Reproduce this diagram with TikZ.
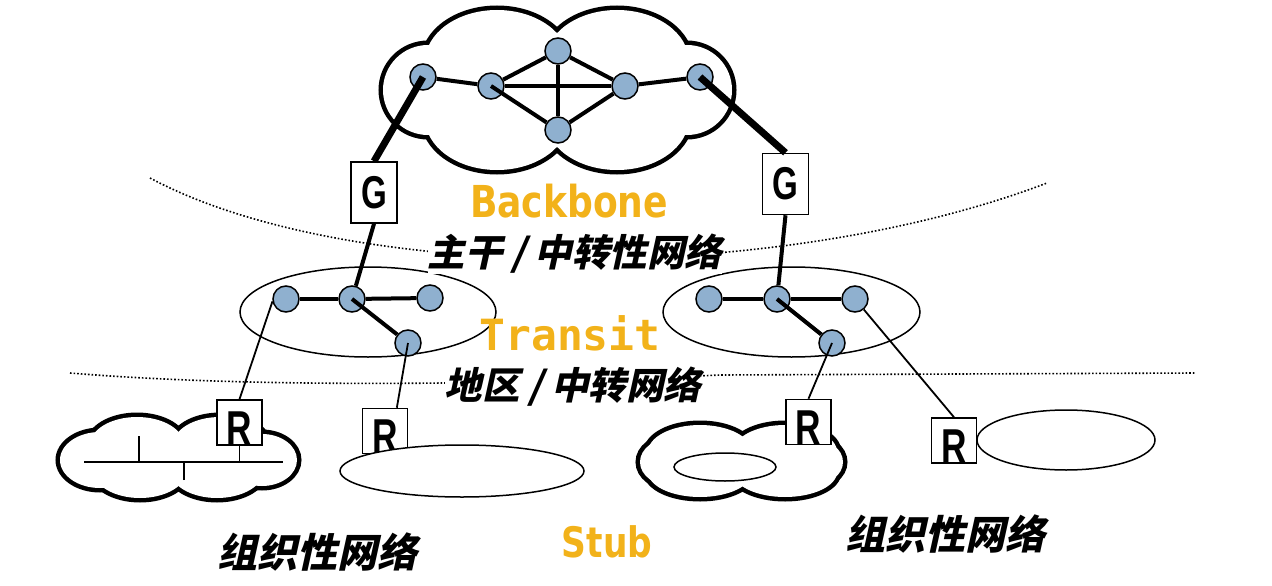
\documentclass[tikz,border=0pt]{standalone}
\usepackage{fontspec}
\usepackage{tikz}
\usetikzlibrary{positioning}
\newfontfamily\cjkFont{Noto Sans CJK SC}[FakeSlant=0.22]
\newfontfamily\titleFont{DejaVu Sans}[FakeStretch=0.82]
\newfontfamily\monoFont{DejaVu Sans Mono}
\newfontfamily\boxFont{Liberation Sans}[FakeStretch=0.72]
\definecolor{netBlue}{RGB}{143,176,207}
\definecolor{tagOrange}{RGB}{242,178,26}
% a cloud is a union of ellipses: thick outlines first, white fill on top
\newcommand*{\cloudShape}[1]{%
    \foreach \cx/\cy/\rx/\ry in {#1}
        \draw [line width=9] (\cx,\cy) ellipse [x radius=\rx, y radius=\ry];
    \foreach \cx/\cy/\rx/\ry in {#1}
        \fill [white] (\cx,\cy) ellipse [x radius=\rx, y radius=\ry];
}
\newcommand*{\cnSlash}{\makebox[0.85em]{/}}

\begin{document}
\begin{tikzpicture}[x=1pt, y=-1pt,
    netNode/.style={circle, draw, line width=1.5, fill=netBlue, minimum size=26, inner sep=0},
    link/.style={line width=4},
    trunk/.style={line width=7},
    tap/.style={line width=1.8},
    thinRing/.style={draw, line width=1.5},
    border/.style={dotted, line width=1.6},
    gateBox/.style={draw, line width=1.5, fill=white, minimum width=46, minimum height=61, inner sep=0,
        font=\boxFont\bfseries\fontsize{46}{46}\selectfont},
    routerBox/.style={draw, line width=1.5, fill=white, minimum width=45, minimum height=45, inner sep=0,
        font=\boxFont\bfseries\fontsize{49}{49}\selectfont},
    tierTag/.style={text=tagOrange, anchor=base, inner sep=0},
    cnTag/.style={fill=white, inner sep=0, font=\cjkFont\bfseries\fontsize{37.5}{37.5}\selectfont}]
    \useasboundingbox (0,0) rectangle (1272,586);

    % clouds
    \cloudShape{428/90/45/45, 497/62/72/52, 617/62/72/52, 497/118/72/52, 617/118/72/52, 687/90/45/45, 557/90/140/45}
    \cloudShape{100/460/40/28, 137/445/47/28, 220/445/47/28, 262/460/35/26, 140/470/47/28, 217/470/47/28, 178/458/85/18}
    \cloudShape{672/462/32/24, 700/452/52/27, 785/452/52/27, 813/462/30/23, 700/472/52/25, 785/472/52/25, 742/462/70/16}

    % transit regions
    \draw [thinRing] (368,312) ellipse [x radius=128, y radius=45];
    \draw [thinRing] (791.5,312) ellipse [x radius=128.5, y radius=45];

    % tier borders
    \draw [border] (150,178) .. controls (350,285) and (780,285) .. (1047,183);
    \draw [border] (70,373) .. controls (250,388) and (500,385) .. (720,375) -- (1195,373);

    \foreach \name/\px/\py in {bb1/423/77, bb2/491/86, bb3/558/51, bb4/558/130, bb5/625/86, bb6/700/77,
        tl1/286/299, tl2/352/299, tl3/430/298, tl4/408/343,
        tr1/709/299, tr2/777/299, tr3/855/299, tr4/832/343} {
        \node [netNode] (\name) at (\px,\py) {};
    }
    \foreach \a/\b in {bb1/bb2, bb2/bb3, bb2/bb5, bb3/bb4, bb3/bb5, bb4/bb5, bb5/bb6, tl1/tl2, tl2/tl3, tr1/tr2, tr2/tr3} {
        \draw [link] (\a) -- (\b);
    }
    \draw [link] (bb2.center) -- (bb4);
    \draw [link] (tl2.center) -- (tl4);
    \draw [link] (tr2.center) -- (tr4);

    % gateways
    \node [gateBox] (gl) at (374,192.5) {G};
    \node [gateBox] (gr) at (785.5,184) {G};
    \draw [trunk] (bb1.center) -- (gl.north);
    \draw [trunk] (bb6.center) -- (gr.north);
    \draw [link] (gl.south) -- (tl2);
    \draw [link] (gr.south) -- (tr2);

    % routers
    \node [routerBox] (rl1) at (239.5,422.5) {\smash{\raisebox{-22.5pt}{R}}};
    \node [routerBox] (rl2) at (385,431) {\smash{\raisebox{-22.5pt}{R}}};
    \node [routerBox] (rr1) at (808.5,422) {\smash{\raisebox{-22.5pt}{R}}};
    \node [routerBox] (rr2) at (954,440.5) {\smash{\raisebox{-22.5pt}{R}}};
    \draw [tap] (tl1.190) -- (rl1.north);
    \draw [tap] (tl4.center) -- (rl2.63);
    \draw [tap] (tr4.center) -- (rr1.north);
    \draw [tap] (tr3) -- (rr2.north);

    % stub networks
    \draw [thinRing, fill=white] (462,471) ellipse [x radius=122, y radius=26];
    \draw [thinRing, fill=white] (1066,440) ellipse [x radius=89, y radius=30];
    \draw [thinRing] (725,467) ellipse [x radius=51, y radius=14];
    \coordinate (busW) at (84,462);
    \coordinate (busE) at (283,462);
    \coordinate (hostA) at (139,436);
    \coordinate (hostB) at (184,480);
    \draw [tap] (busW) -- (busE);
    \draw [tap] (hostA) -- (hostA |- busW);
    \draw [tap] (hostB) -- (hostB |- busW);
    \draw [tap] (rl1.south) -- (rl1.south |- busW);

    % labels
    \node [tierTag, font=\titleFont\bfseries\fontsize{44}{44}\selectfont] (backboneTag) at (569,217) {Backbone};
    \node [tierTag, font=\monoFont\bfseries\fontsize{43}{43}\selectfont] (transitTag) at (570,350) {Transit};
    \node [tierTag, font=\titleFont\bfseries\fontsize{42}{42}\selectfont] (stubTag) at (607,557) {Stub};
    \node [cnTag] (backboneCn) at (575,254) {主干\cnSlash 中转性网络};
    \node [cnTag] (transitCn) at (573,387) {地区\cnSlash 中转网络};
    \node [cnTag, font=\cjkFont\bfseries\fontsize{40}{40}\selectfont] (stubCnL) at (317,552) {组织性网络};
    \node [cnTag, font=\cjkFont\bfseries\fontsize{40}{40}\selectfont] (stubCnR) at (945,534) {组织性网络};
\end{tikzpicture}
\end{document}
